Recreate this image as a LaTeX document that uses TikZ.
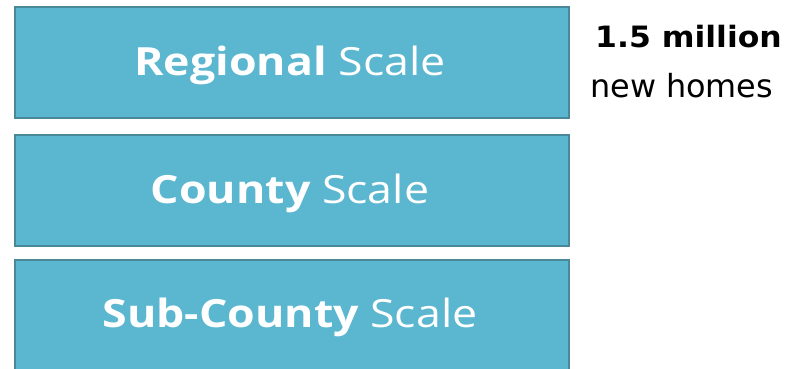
\documentclass[tikz,border=0pt]{standalone}
\usepackage{fontspec}
\setmainfont{Open Sans}
\newfontfamily\boxfont[FakeStretch=1.15]{Open Sans}
\newfontfamily\sidefont{DejaVu Sans}
\newfontfamily\sideboldfont[FakeStretch=1.07]{DejaVu Sans Bold}
\definecolor{boxfill}{HTML}{5BB6D0}
\definecolor{boxline}{HTML}{4A8798}
\begin{document}
\begin{tikzpicture}[x=1bp,y=-1bp,
  scalebox/.style={draw=boxline, line width=2bp, fill=boxfill, minimum width=554bp, minimum height=111bp, inner sep=0pt},
  boxlabel/.style={anchor=base, inner sep=0pt, text=white, font=\boxfont\fontsize{39}{44}\selectfont},
  sidetext/.style={anchor=base west, inner sep=0pt}]
\useasboundingbox (0,0) rectangle (785,368);
\clip (0,0) rectangle (785,368);
\node[scalebox] (regional) at (292,62.5) {};
\node[scalebox] (county) at (292,190.5) {};
\node[scalebox] (subcounty) at (292,315.5) {};
\node[boxlabel] (regionallabel) at (290,75) {\textbf{Regional} Scale};
\node[boxlabel] (countylabel) at (290,203) {\textbf{County} Scale};
\node[boxlabel] (subcountylabel) at (290,327) {\textbf{Sub-County} Scale};
\node[sidetext, font=\sideboldfont\fontsize{29.5}{34}\selectfont] (million) at (595,47) {1.5 million};
\node[sidetext, font=\sidefont\fontsize{32}{36}\selectfont] (homes) at (590,97) {new homes};
\end{tikzpicture}
\end{document}
